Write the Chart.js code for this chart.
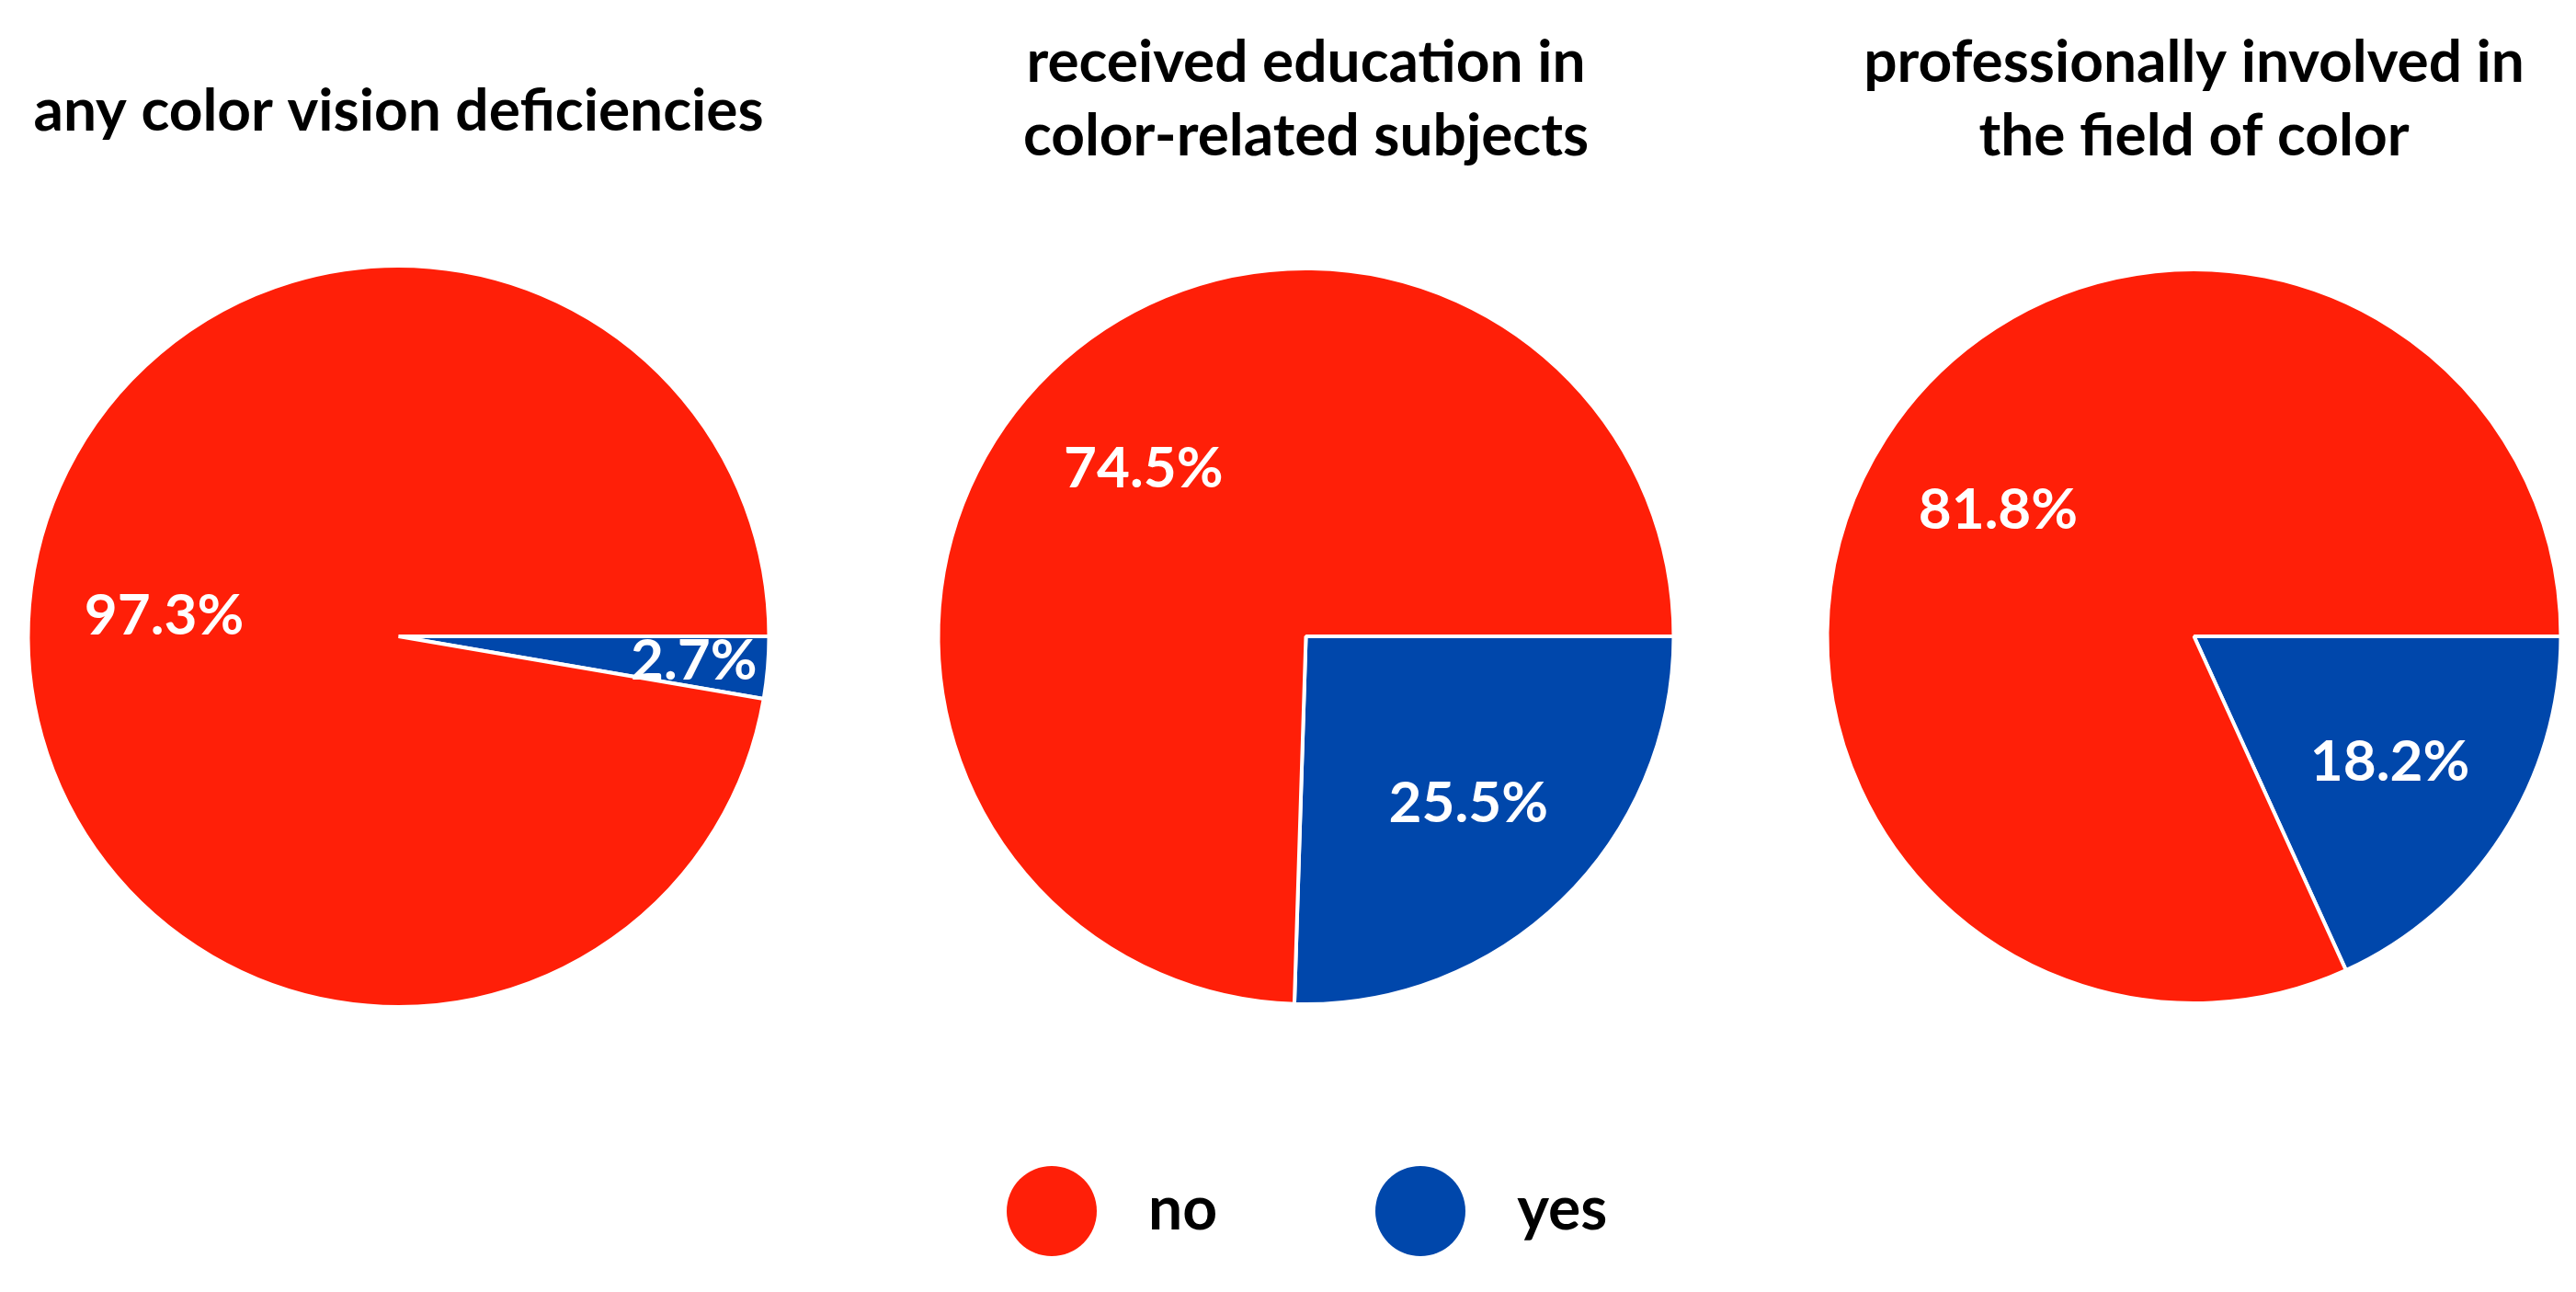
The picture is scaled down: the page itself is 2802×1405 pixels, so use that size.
<!DOCTYPE html>
<html>
<head>
<meta charset="utf-8">
<script src="https://cdn.jsdelivr.net/npm/chart.js@4"></script>
<style>
  html, body { margin: 0; padding: 0; background: #fff; width: 2802px; height: 1405px; overflow: hidden; }
  .pie-box { position: absolute; top: 0; }
  #legend { position: absolute; left: 1095px; top: 1268px; display: flex; align-items: center;
            font-family: Lato, sans-serif; font-weight: 700; font-size: 66px; color: #000; }
  .legend-item { display: flex; align-items: center; margin-right: 172px; }
  .legend-dot { width: 98px; height: 98px; border-radius: 50%; margin-right: 56px; }
  .legend-item span { position: relative; top: -6px; }
</style>
</head>
<body>
<div class="pie-box" id="box0"><canvas id="pie0"></canvas></div>
<div class="pie-box" id="box1"><canvas id="pie1"></canvas></div>
<div class="pie-box" id="box2"><canvas id="pie2"></canvas></div>
<div id="legend"></div>

<script>
// --- datos ---
const categorias = ['no', 'yes'];
const coloresCategorias = ['#FF1F08', '#0047AB'];

const titulos = [
    'any color vision deficiencies',
    ['received education in', 'color-related subjects'],
    ['professionally involved in', 'the field of color']
];
const valoresNo = [97.3, 74.5, 81.8];
const valoresYes = [2.7, 25.5, 18.2];

// geometría de cada tarta (centro y radio en px de la página)
const centrosX = [433.5, 1420.5, 2386.5];
const centrosY = [692, 692, 692];
const radios = [401, 398, 397];
const paddingTitulo = [81, 28, 28];

const FUENTE = 'Lato, sans-serif';
const TAM_TITULO = 64;
const ALTO_LINEA = 80;

// etiquetas de porcentaje dentro de cada porción
const etiquetasPlugin = {
    id: 'etiquetasPct',
    afterDatasetsDraw(chart) {
        const ctx = chart.ctx;
        const meta = chart.getDatasetMeta(0);
        const valores = chart.data.datasets[0].data;
        ctx.save();
        ctx.fillStyle = '#ffffff';
        ctx.font = `700 62px ${FUENTE}`;
        ctx.textAlign = 'center';
        ctx.textBaseline = 'middle';
        meta.data.forEach((arc, i) => {
            const p = arc.getProps(['x', 'y', 'startAngle', 'endAngle', 'outerRadius'], true);
            const medio = (p.startAngle + p.endAngle) / 2;
            const frac = valores[i] < 5 ? 0.8 : 0.635;
            const tx = p.x + Math.cos(medio) * p.outerRadius * frac;
            const ty = p.y + Math.sin(medio) * p.outerRadius * frac;
            ctx.fillText(valores[i].toFixed(1) + '%', tx, ty);
        });
        ctx.restore();
    }
};

for (let i = 0; i < 3; i++) {
    const box = document.getElementById('box' + i);
    const ancho = 2 * Math.min(centrosX[i], 2802 - centrosX[i]);
    const lineas = Array.isArray(titulos[i]) ? titulos[i].length : 1;
    const padBottom = lineas === 1 ? 3 : 15;
    const altoTitulo = paddingTitulo[i] + lineas * ALTO_LINEA + padBottom;
    const alto = 2 * centrosY[i] - altoTitulo;
    box.style.left = (centrosX[i] - ancho / 2) + 'px';
    box.style.width = ancho + 'px';
    box.style.height = alto + 'px';

    new Chart(document.getElementById('pie' + i), {
        type: 'pie',
        data: {
            labels: [categorias[1], categorias[0]],
            datasets: [{
                data: [valoresYes[i], valoresNo[i]],
                backgroundColor: [coloresCategorias[1], coloresCategorias[0]],
                borderColor: '#ffffff',
                borderWidth: 4
            }]
        },
        options: {
            responsive: true,
            maintainAspectRatio: false,
            animation: false,
            events: [],
            rotation: 90,
            radius: radios[i] + 2,
            layout: { padding: 0 },
            plugins: {
                legend: { display: false },
                tooltip: { enabled: false },
                title: {
                    display: true,
                    text: titulos[i],
                    color: '#000000',
                    font: { family: FUENTE, size: TAM_TITULO, weight: 700, lineHeight: ALTO_LINEA / TAM_TITULO },
                    padding: { top: paddingTitulo[i], bottom: padBottom }
                }
            }
        },
        plugins: [etiquetasPlugin]
    });
}

// leyenda HTML
const legendContainer = document.getElementById('legend');
categorias.forEach((cat, i) => {
    const item = document.createElement('div');
    item.className = 'legend-item';
    item.innerHTML = `<div class="legend-dot" style="background-color: ${coloresCategorias[i]};"></div><span>${cat}</span>`;
    legendContainer.appendChild(item);
});
</script>
</body>
</html>
